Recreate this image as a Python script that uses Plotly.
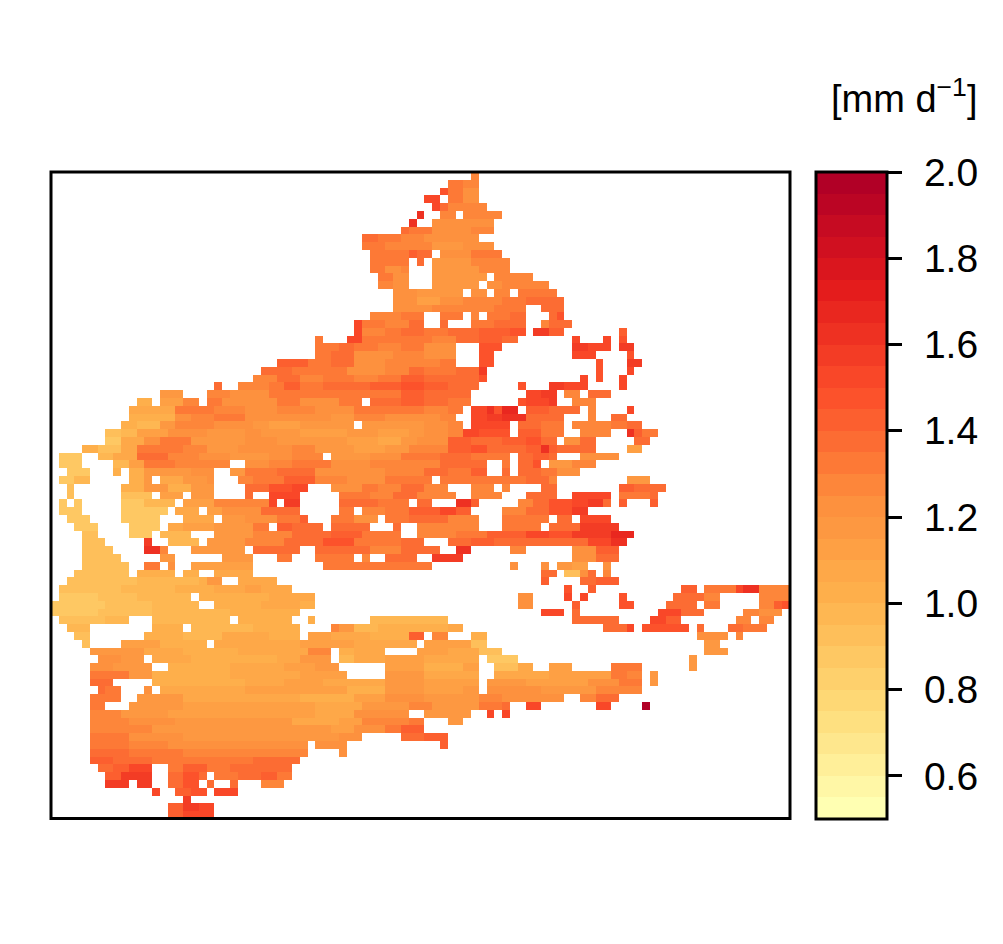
import re
import plotly.graph_objects as go

N_COLS = 95
N_ROWS = 83
TICK_VALUES = [0.6, 0.8, 1.0, 1.2, 1.4, 1.6, 1.8, 2.0]
TICK_TEXT = ["0.6", "0.8", "1.0", "1.2", "1.4", "1.6", "1.8", "2.0"]
UNIT_LABEL = "[mm d<sup>\u22121</sup>]"
PALETTE_ANCHORS = ["#FFFFB2", "#FED976", "#FEB24C", "#FD8D3C", "#FC4E2A", "#E31A1C", "#B10026"]

# value read for each letter (mm/d)
LEVELS = {"a": 0.875, "b": 0.925, "c": 0.975, "d": 1.025, "e": 1.075, "f": 1.125, "g": 1.175,
          "h": 1.225, "i": 1.275, "j": 1.325, "k": 1.375, "l": 1.425, "m": 1.475, "n": 1.525,
          "o": 1.575, "p": 1.625, "q": 1.675, "r": 1.725, "s": 1.775, "z": 1.975}

# one string per grid row, top to bottom: column ranges and their value letter
ROWS = [
"54i",
"51-52j 53-54i",
"50m 51-52j 53-54h",
"48-49n 51-52j 53-54h",
"49n 50k 51-55i",
"47p 50-51i 53-57i",
"46p 49-56h",
"45k 46-48j 49-53h 54-56i",
"40-41k 42-44j 45-47i 48-54h",
"40-42j 43-45i 46-48i 49-52g 53-56h",
"41-45j 46l 47-48k 50-53h 54-57j",
"41-45j 47k 49-53g 54-58i",
"41-42j 43-44h 45i 49-54g 55-58i",
"42-43j 44-45h 49-55g 57-61i",
"42-43i 44-45h 49-54g 56-57h 58-63i",
"44-46h 47-52g 54-55h 57-58i 60-64j",
"44-46h 47-49f 50-52h 53-57i 58-60j 61-65k",
"44-48h 49-53i 54-56i 57-60j 63-65k",
"41-44i 45-47j 50-52j 54i 56-58j 59-60k 64k 65m",
"39n 40-42j 43-45i 46-47k 50k 54-56j 57-60k 63i 64-66k",
"39n 40-42i 43-44j 45-47k 48-50j 51-54k 55-58l 59-60m 62-63o 64-65l 73l",
"34j 38-39n 40-42j 43-45j 46-48j 49-51i 52-54k 55-57l 58-59k 67n 71n 73m",
"34-36j 37-38k 39-41j 42-44i 45-47j 48-51h 55-57m 67-68o 69-71n 73-74o",
"34-35j 36-38k 39-43h 44-47i 48-51h 55-56m 67-69n 74m",
"29-31l 32l 33-35j 36-38k 39-42h 43-47i 48-49i 50-51j 55-56m 70m 74-75o",
"27-30k 31-33j 34-37j 38-42h 43-45i 46-47k 48-51j 52-54k 55o 70m 74n",
"26-28i 29-31k 32-34i 35-38j 39-41i 42-44j 45-47l 48-51k 52-54k 55m 68n 70m 73n",
"21k 24-27i 28-29j 30-31l 32-34j 35-37k 38-40k 41-44l 45-47m 48-50l 51-54k 60m 64-65o 66-68n 73n",
"14-16g 20-22i 23-27h 28-30j 31-37j 38-40j 41-44j 45-47l 48-50k 51-53k 61-62n 63-64o 66-67i 69-71k",
"11-12d 14-16f 17-18i 20-21j 22-28h 29-31j 32-36h 37-39j 41-44k 45-47l 48-50k 51-53j 60m 61-63n 64o 67-69i",
"10-11e 12-15e 16-20j 21-24i 25-28h 29-33i 34-38h 39-42j 43-47j 48-50i 51-52j 54-55n 56p 57m 58-59q 61-63l 64-67k 69i 74n",
"10-11d 12-15d 16-17h 18-20i 21-24j 25-29h 30-35h 36-38g 39-42i 43-46h 47-49h 50-51i 54-55n 56-57o 58-60p 61-65k 69i 72-73k",
"9-10d 11-13c 14-15g 16-20i 21-25h 26-27g 28-31f 32-38g 40-43g 44-47g 48-50h 51-52i 54-58n 60-62k 63-65j 67-71i 72-73j 74-75k",
"7-8b 9-10c 11-14f 15-19h 20-24g 25-26h 27-31g 32-37f 38-41g 42-45f 46-47g 48-50h 51-52i 53-54n 55-58m 60-62l 63-65j 68-71i 74p 75l 76-77j",
"7-8a 9-11e 12-13h 14-17j 18-24g 25-28h 29-32g 33-37g 38-41f 42-44e 45-46g 47-50h 51-53l 54-57k 58-60l 61-62m 63-64k 66-67h 68-69k 75-76k",
"4-5d 6-8b 9-10e 11-12j 13-16j 17-19i 20-23g 24-27h 28-30h 31-33i 34-38g 39-42f 43-45g 46-50i 51-53l 54-55m 56-60k 61-62l 63p 64l 65-69k 74-75f",
"1-3a 6-7c 8-10e 11-14k 15-18i 19-22h 23-27g 28-30h 31-34i 36-40g 41-44h 45-49j 50-53k 54-58j 60-61k 62-63l 64k 68-72h",
"1-3a 8-9c 10-11f 12-15j 16-22i 25-27h 28-30i 31-35j 36-40h 41-44i 45-49i 50-55k 58j 60-61k 62m 64-66g 67-69i",
"2-4a 8d 10-11d 12-17g 18-20h 23-24g 25-28j 29-33k 34-38h 39-42h 43-47i 48-50k 51-53j 54-55l 58k 60-62k 63-64j 65-67h",
"1-2a 3-4c 10-11d 12g 14-16e 17-19g 20h 24-25i 26-29j 30-33l 34-37i 38-42h 43-46j 47-48j 50-60j 61-63k 64i 74-76g",
"2b 9-11d 12-14g 15-17d 18-20g 25-27k 28-30m 31-32n 36-39h 40-41j 42-44i 45-47k 48-50i 54-56i 58i 63-64k 73-74l 75-78k",
"2b 9-12b 14-16f 18-20g 25k 28-31n 37-40j 41-43i 44-46k 47-51i 54-57i 61-64k 67-71n 73-76j 77k",
"1a 3a 9-11a 12-15c 17-20f 21-27i 28n 30-31o 37-41k 42-45j 47-48k 52-53p 54l 60-61i 62-63k 64-66m 67-68n 69-70o 71k 73l 77l",
"1-3a 9-14a 16-18e 20-21f 22-26h 27-31k 37-38j 40-42i 43-45j 46-49l 50-51n 52-53l 58-60i 61-63k 64-66m 67-68o",
"2-4a 9-13a 17-20e 22-24g 25-28h 29-31j 32l 36-38j 39-41h 43-45j 46-50k 51-54i 58-63j 65-66k 68-71n",
"3-5a 10-13a 15-16e 17-20f 21-25g 26-27j 29-30l 31-34k 36-40k 44k 47-54i 58-62j 64-67k 68-72o",
"4-5b 10-12a 14-17c 21-25g 26-30i 31-35k 36-39l 40-44j 47-51i 52-55j 56-60l 61-63n 64-66m 67-71o 72-74q",
"4-6b 12o 15-18c 20-24g 25-29i 30-34k 35-38m 39-44j 45-47k 51-53k 54-56l 57-68k 69-71n 72-73p",
"4-7b 12-13p 14i 18-24g 26-31k 34-37k 38-40k 41-44i 45-49k 52-53p 59-60i 67-69h 70-72l",
"4-8b 14-15g 22-25g 29-30j 34-38j 40i 43-46k 49-52o 67-69h 70-72k",
"4-9b 12-13j 15h 18-25f 35-38j 39-44j 45-48j 59h 63h 65-66g 67-68f 71h",
"3-9b 11d 12-15d 17-18d 21-25e 63-64k 66-67b 68h 69k 71i",
"2-10b 11-18c 19d 20-21g 24-28e 63l 68-69k 70-72l",
"1-8b 9-15c 16-20d 21-24e 25-26f 27-30e 66m 69l 81-82l 84-87j 88n 89-90p 91-94i",
"1-5a 6-10b 11-17c 19-27d 28-33e 60-61h 66n 68n 73m 80-83k 84-85i 91-94i",
"0-6a 7-12b 13-18c 21-26d 27-31e 32-33d 60-61h 67l 73-74m 79-82k 84-85j 91-92i 93l 94m",
"0-5a 6-12b 13-22c 23-31d 63-65n 67k 78-80n 81-83k 89-90i 91-93h",
"1-6b 7-9c 13-22c 24-30d 33d 41-50c 67-72k 77-78n 79-80l 88-89i 91-92i",
"2-4c 13-16d 18-25c 26-31d 36i 37-38g 39-41c 42-50d 51-52e 71-73k 74n 76-81m 83k 87-88k 89-91j",
"3-4b 12-16d 17-21c 22-27e 28-31d 33-35f 36-40e 41-45d 46-47l 49-50i 54-55d 83-86h 88i",
"4b 9-13f 14-19d 21-27e 28-31e 32-38f 39-46e 48-53f 54-55b 84-85g",
"5-11g 12-16e 17-23d 24-32e 33-35i 37-38d 39-42e 47-50f 51-54e 55-57b 84-86g",
"6-8h 9-11g 13-17e 18-28d 29-31e 32-35g 37-38c 39-42e 43-47f 48-54e 56-59a 82g",
"5-7h 8-12g 15-22d 23-29e 30-33f 34-36g 43-47f 48-52d 53-54f 57-59b 60-61e 64-66f 72-75j 82g",
"5-9j 10-12g 13-22d 23-31e 32-37f 43-47g 48-54e 57-63e 64-71f 72-73j 74-75i 77g",
"5-7k 13-24d 25-29e 30-34f 35-37e 38-42e 43-47g 48-54f 56-60g 61-68f 69-72h 73-75j 77g",
"6k 7-8j 12h 14-24e 25-37f 38-42d 43-47g 48-52f 53-54g 56-62h 63-69g 70-75i",
"5-8j 11-16g 17-31e 32-38d 39-42f 43-47h 48-54g 55-57i 58-65h 68-69i 70-72k",
"5-6j 10-16g 17-25f 26-33f 34-39e 40-45g 46-48i 49-54g 55-57j 58k 61-62n 70-71n 76z",
"5-8i 9-14g 15-28f 29-33f 34-38e 39-45h 48-53g 56n 58n",
"5-9i 10-15h 16-30g 31-36e 37-39f 40-45i 46-47j 51-52g",
"5-12i 13-20g 21-35g 36-38f 39-42h 43-44j 45-47l",
"5-9j 10-16h 17-24g 25-36g 37-39h 45-47k 48-50l",
"5-9j 10-14i 15-32h 34-37h 50l",
"5-9k 10-16j 17-32i 37h",
"5-7l 8-12k 13-17j 18-25j 26-31k",
"6-7k 8-9l 10-12n 15-16j 17-19l 20-22j 23-30k",
"7-8l 9-12o 15-16k 17-18m 19k 21-23j 24-26k 27-28l 29-30j",
"7-9o 11-12o 15-16k 17-18m 20k 23k 27-29i",
"13n 16-17l 18-19m 21-23n",
"17o",
"15-16l 17-18o 19-20n",
"15-16l 17-20n",
]

# --- build the grid from the lists above ---
z = [[None] * N_COLS for _ in range(N_ROWS)]
for r, row in enumerate(ROWS):
    for a, b, letter in re.findall(r"(\d+)(?:-(\d+))?([a-z])", row):
        for c in range(int(a), int(b or a) + 1):
            z[r][c] = LEVELS[letter]


def hex2rgb(h):
    return tuple(int(h[i:i + 2], 16) for i in (1, 3, 5))


def palette(t):
    p = t * (len(PALETTE_ANCHORS) - 1)
    i = min(int(p), len(PALETTE_ANCHORS) - 2)
    f = p - i
    a, b = hex2rgb(PALETTE_ANCHORS[i]), hex2rgb(PALETTE_ANCHORS[i + 1])
    return "rgb(%d,%d,%d)" % tuple(round(a[k] + (b[k] - a[k]) * f) for k in range(3))


N_BANDS = 30
colorscale = []
for i in range(N_BANDS):
    col = palette(i / (N_BANDS - 1))
    colorscale.append([i / N_BANDS, col])
    colorscale.append([(i + 1) / N_BANDS, col])

W, H = 1003, 944
L, R, T, B = 51, 790, 172, 818.5
FONT = "Liberation Sans, Arial, sans-serif"

fig = go.Figure(go.Heatmap(
    z=z,
    x=[c + 0.5 for c in range(N_COLS)],
    y=[r + 0.5 for r in range(N_ROWS)],
    zmin=0.5, zmax=2.0, colorscale=colorscale, hoverongaps=False,
    colorbar=dict(
        x=816 / W, xanchor="left", xpad=0, y=1 - T / H, yanchor="top", ypad=0,
        lenmode="pixels", len=B - T, thicknessmode="pixels", thickness=71,
        outlinewidth=3, outlinecolor="black", borderwidth=0,
        ticks="outside", ticklen=14, tickwidth=3, tickcolor="black",
        tickmode="array", tickvals=TICK_VALUES, ticktext=["\u00a0\u200a" + t for t in TICK_TEXT],
        tickfont=dict(family=FONT, size=39, color="black"),
    ),
))
fig.update_layout(
    width=W, height=H, autosize=False, margin=dict(l=0, r=0, t=0, b=0, autoexpand=False),
    paper_bgcolor="white", plot_bgcolor="white", showlegend=False,
    xaxis=dict(domain=[L / W, R / W], range=[0, N_COLS], showgrid=False, zeroline=False,
               showticklabels=False, ticks=""),
    yaxis=dict(domain=[1 - B / H, 1 - T / H], range=[N_ROWS, 0], showgrid=False, zeroline=False,
               showticklabels=False, ticks=""),
    shapes=[dict(type="rect", xref="paper", yref="paper", x0=L / W, x1=R / W, y0=1 - B / H, y1=1 - T / H,
                 line=dict(color="black", width=3), layer="above")],
    annotations=[dict(text=UNIT_LABEL, x=979 / W, y=1 - 122 / H, xref="paper", yref="paper",
                      xanchor="right", yanchor="bottom", showarrow=False,
                      font=dict(family=FONT, size=38, color="black"))],
)
fig.write_html("out.html", post_script="document.body.style.margin='0';document.body.style.overflow='hidden';",
               config={"displayModeBar": False})
